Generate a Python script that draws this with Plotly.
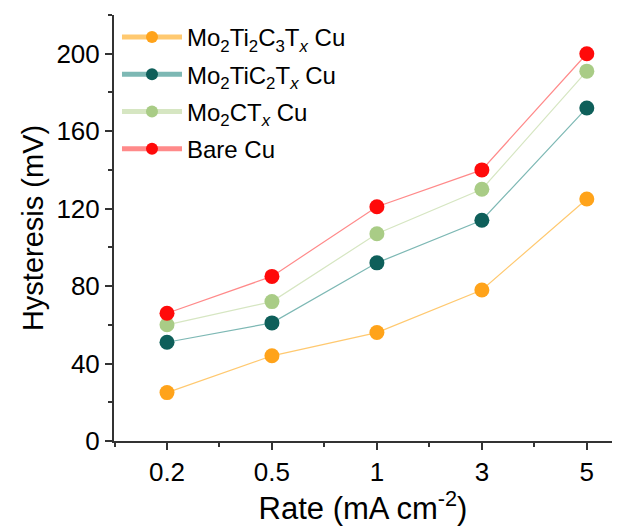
import plotly.graph_objects as go

rates = ["0.2", "0.5", "1", "3", "5"]
names = [
    "Mo<sub>2</sub>Ti<sub>2</sub>C<sub>3</sub>T<sub><i>x</i></sub> Cu",
    "Mo<sub>2</sub>TiC<sub>2</sub>T<sub><i>x</i></sub> Cu",
    "Mo<sub>2</sub>CT<sub><i>x</i></sub> Cu",
    "Bare Cu",
]
mo2ti2c3 = [25, 44, 56, 78, 125]
mo2tic2 = [51, 61, 92, 114, 172]
mo2ct = [60, 72, 107, 130, 191]
bare = [66, 85, 121, 140, 200]
series = [mo2ti2c3, mo2tic2, mo2ct, bare]
marker_colors = ["#FFA31A", "#0E5F5A", "#A9CC86", "#FF0A0A"]
line_colors = ["#FFC970", "#7DB8B4", "#D6E6C2", "#FF8A8A"]

x = list(range(len(rates)))
fig = go.Figure()
for i, (name, ys, mc, lc) in enumerate(zip(names, series, marker_colors, line_colors)):
    fig.add_trace(go.Scatter(
        x=x, y=ys, name=name, mode="lines+markers", legendgroup=f"g{i}",
        line=dict(color=lc, width=1.2),
        marker=dict(color=mc, size=15, line=dict(width=0)),
    ))

font = "Liberation Sans, Arial, sans-serif"
fig.update_layout(
    width=630, height=526,
    margin=dict(l=114, r=18, t=15, b=85),
    paper_bgcolor="white", plot_bgcolor="white",
    font=dict(family=font, color="black"),
    showlegend=True,
    legend=dict(x=0.006, y=1.0, xanchor="left", yanchor="top",
                font=dict(size=24, family=font), bgcolor="rgba(0,0,0,0)",
                tracegroupgap=3, itemsizing="constant", itemwidth=60),
    xaxis=dict(
        range=[-0.505, 4.24], tickmode="array", tickvals=x, ticktext=rates,
        showline=True, linecolor="#333", linewidth=2,
        ticks="outside", ticklen=7, tickwidth=1.5, tickcolor="#333",
        minor=dict(tickmode="array", tickvals=[-0.5, 0.5, 1.5, 2.5, 3.5],
                   ticks="outside", ticklen=4, tickwidth=1.5, tickcolor="#333"),
        showgrid=False, zeroline=False,
        tickfont=dict(size=26),
        title=dict(text="Rate (mA cm<sup>-2</sup>)", font=dict(size=31), standoff=3),
    ),
    yaxis=dict(
        range=[0, 220], tickmode="array", tickvals=[0, 40, 80, 120, 160, 200],
        showline=True, linecolor="#333", linewidth=2,
        ticks="outside", ticklen=7, tickwidth=1.5, tickcolor="#333",
        minor=dict(tickmode="array", tickvals=[20, 60, 100, 140, 180, 220],
                   ticks="outside", ticklen=4, tickwidth=1.5, tickcolor="#333"),
        showgrid=False, zeroline=False,
        tickfont=dict(size=26),
        title=dict(text="Hysteresis (mV)", font=dict(size=29), standoff=4),
    ),
)
fig.write_html("out.html")
